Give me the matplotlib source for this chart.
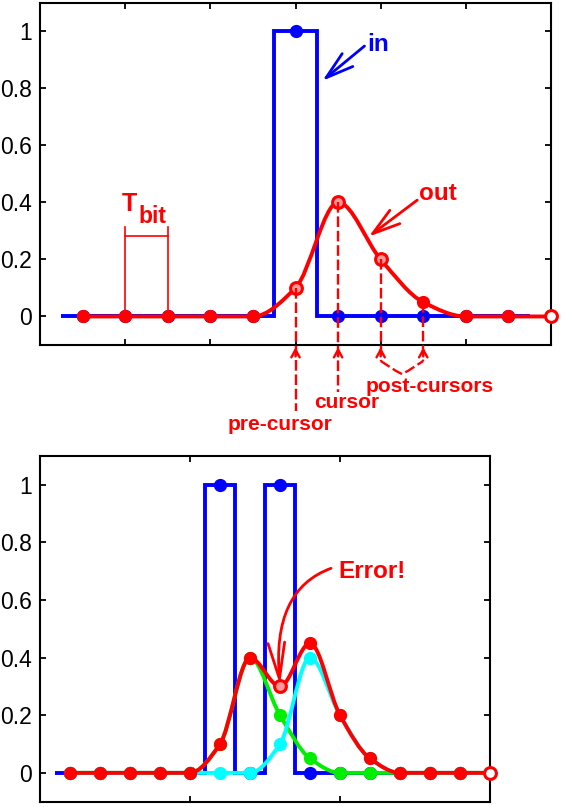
import numpy as np
import matplotlib
matplotlib.use('Agg')
import matplotlib.pyplot as plt
from matplotlib.path import Path
from matplotlib.patches import PathPatch

plt.rcParams['font.family'] = ['Liberation Sans', 'DejaVu Sans']

RED = '#ff0000'
BLUE = '#0000ff'
CYAN = '#00ffff'
GREEN = '#00ee00'

# top panel: single pulse
top_n = [0, 1, 2, 3, 4, 5, 6, 7, 8, 9, 10, 11]
top_in = [0, 0, 0, 0, 0, 1, 0, 0, 0, 0, 0]          # samples 0..10
top_out = [0, 0, 0, 0, 0, 0.1, 0.4, 0.2, 0.05, 0, 0, 0]
top_open = [5, 6, 7]   # ring-looking markers
top_hollow = [11]

# bottom panel: two pulses
bot_n = list(range(15))
bot_in = [0, 0, 0, 0, 0, 1, 0, 1, 0, 0, 0, 0, 0, 0]   # samples 0..13
bot_first = [0, 0, 0, 0, 0, 0.1, 0.4, 0.2, 0.05, 0, 0, 0, 0, 0, 0]
bot_second = [0, 0, 0, 0, 0, 0, 0, 0.1, 0.4, 0.2, 0.05, 0, 0, 0, 0]
bot_out = [0, 0, 0, 0, 0, 0.1, 0.4, 0.3, 0.45, 0.2, 0.05, 0, 0, 0, 0]
bot_open = [7]
bot_hollow = [14]

yticks = [0, 0.2, 0.4, 0.6, 0.8, 1]
ytick_labels = ['0', '0.2', '0.4', '0.6', '0.8', '1']

MS = 8.5


def smooth_path(xs, ys):
    # monotone cubic through the samples, drawn as bezier segments
    xs = np.asarray(xs, float)
    ys = np.asarray(ys, float)
    h = np.diff(xs)
    s = np.diff(ys) / h
    d = np.zeros_like(ys)
    for i in range(1, len(ys) - 1):
        if s[i - 1] * s[i] > 0:
            d[i] = 2 / (1 / s[i - 1] + 1 / s[i])
    d[0], d[-1] = s[0], s[-1]
    verts = [(xs[0], ys[0])]
    codes = [Path.MOVETO]
    for i in range(len(xs) - 1):
        verts += [(xs[i] + h[i] / 3, ys[i] + d[i] * h[i] / 3),
                  (xs[i + 1] - h[i] / 3, ys[i + 1] - d[i + 1] * h[i] / 3),
                  (xs[i + 1], ys[i + 1])]
        codes += [Path.CURVE4] * 3
    return Path(verts, codes)


def response(ax, xs, ys, color, z, open_idx=(), hollow_idx=()):
    ax.add_patch(PathPatch(smooth_path(xs, ys), fill=False, edgecolor=color,
                           lw=2.8, zorder=z, capstyle='round'))
    ax.plot(xs, ys, 'o', color=color, ms=MS, zorder=z + 0.1)
    for i in open_idx:
        ax.plot(xs[i], ys[i], 'o', mec=color, mfc='#ff9a9a', mew=2.2, ms=MS, zorder=z + 0.2)
    for i in hollow_idx:
        ax.plot(xs[i], ys[i], 'o', mec=color, mfc='white', mew=2.2, ms=MS,
                zorder=z + 0.2, clip_on=False)


def pulse(ax, xs, bits, z):
    edges = np.arange(len(bits) + 1) - 0.5
    ax.stairs(bits, edges, baseline=None, color=BLUE, lw=2.8, zorder=z)
    ax.plot(xs[:len(bits)], bits, 'o', color=BLUE, ms=MS, zorder=z + 0.1)


def style(ax, xlim, xticks):
    ax.set_xlim(*xlim)
    ax.set_ylim(-0.1, 1.1)
    ax.set_xticks(xticks)
    ax.set_xticklabels([])
    ax.set_yticks(yticks)
    ax.set_yticklabels(ytick_labels)
    ax.tick_params(direction='in', length=4, width=1.3, top=True, right=True,
                   labelsize=16.5, pad=6)
    for sp in ax.spines.values():
        sp.set_linewidth(1.5)


fig = plt.figure(figsize=(5.66, 8.07), dpi=100)

# ---------------- top panel ----------------
ax1 = fig.add_axes([0.0707, 0.5725, 0.9028, 0.4242])
pulse(ax1, top_n, top_in, 2)
response(ax1, top_n, top_out, RED, 5, top_open, top_hollow)
style(ax1, (-1, 11), [1, 3, 5, 7, 9])

arrow_big = dict(arrowstyle='->,head_length=1.0,head_width=0.3', lw=2,
                 shrinkA=0, shrinkB=0, mutation_scale=20)
ax1.text(6.68, 0.955, 'in', color=BLUE, fontsize=17.5, fontweight='bold',
         ha='left', va='center')
ax1.annotate('', xy=(5.63, 0.826), xytext=(6.62, 0.948),
             arrowprops=dict(arrow_big, color=BLUE), zorder=7)
ax1.text(7.9, 0.43, 'out', color=RED, fontsize=17.5, fontweight='bold',
         ha='left', va='center')
ax1.annotate('', xy=(6.72, 0.28), xytext=(7.86, 0.408),
             arrowprops=dict(arrow_big, color=RED), zorder=7)

# T_bit bracket
ax1.plot([1, 1], [0, 0.314], color=RED, lw=1.2, zorder=6)
ax1.plot([2, 2], [0, 0.314], color=RED, lw=1.2, zorder=6)
ax1.plot([1, 2], [0.282, 0.282], color=RED, lw=1.2, zorder=6)
ax1.text(0.93, 0.394, 'T', color=RED, fontsize=18, fontweight='bold',
         ha='left', va='center')
ax1.text(1.32, 0.35, 'bit', color=RED, fontsize=16.5, fontweight='bold',
         ha='left', va='center')

# cursor markers below the axis
dash = (0, (4.5, 1.6))
cursor_x = [5, 6, 7, 8]
cursor_bottom = [-0.33, -0.265, -0.156, -0.156]
for cx, cb in zip(cursor_x, cursor_bottom):
    ax1.plot([cx, cx], [top_out[cx], cb], color=RED, lw=1.7, ls=dash,
             clip_on=False, zorder=6)
    ax1.annotate('', xy=(cx, -0.108), xytext=(cx, -0.14),
                 arrowprops=dict(arrowstyle='->,head_length=0.55,head_width=0.3',
                                 color=RED, lw=1.7, shrinkA=0, shrinkB=0,
                                 mutation_scale=10),
                 annotation_clip=False)
brace_x = [7, 7.35, 7.5, 7.65, 8]
brace_y = [-0.156, -0.19, -0.202, -0.19, -0.156]
ax1.plot(brace_x, brace_y, color=RED, lw=1.7, ls=dash, clip_on=False)

lab = dict(color=RED, fontsize=15, fontweight='bold', ha='center', va='center')
ax1.text(4.63, -0.378, 'pre-cursor', **lab)
ax1.text(6.2, -0.303, 'cursor', **lab)
ax1.text(8.15, -0.244, 'post-cursors', **lab)

# ---------------- bottom panel ----------------
ax2 = fig.add_axes([0.0707, 0.0066, 0.795, 0.4284])
pulse(ax2, bot_n, bot_in, 2)
response(ax2, bot_n, bot_first, GREEN, 3)
response(ax2, bot_n, bot_second, CYAN, 4)
response(ax2, bot_n, bot_out, RED, 5, bot_open, bot_hollow)
style(ax2, (-1, 14), [4, 9])

ax2.text(8.94, 0.70, 'Error!', color=RED, fontsize=17.5, fontweight='bold',
         ha='left', va='center')
ax2.annotate('', xy=(7.0, 0.305), xytext=(8.7, 0.71),
             arrowprops=dict(arrowstyle='->,head_length=1.3,head_width=0.3',
                             lw=2, color=RED, shrinkA=0, shrinkB=0,
                             mutation_scale=20,
                             connectionstyle='angle3,angleA=20,angleB=95'),
             zorder=7)

fig.savefig('out.png', dpi=100)
